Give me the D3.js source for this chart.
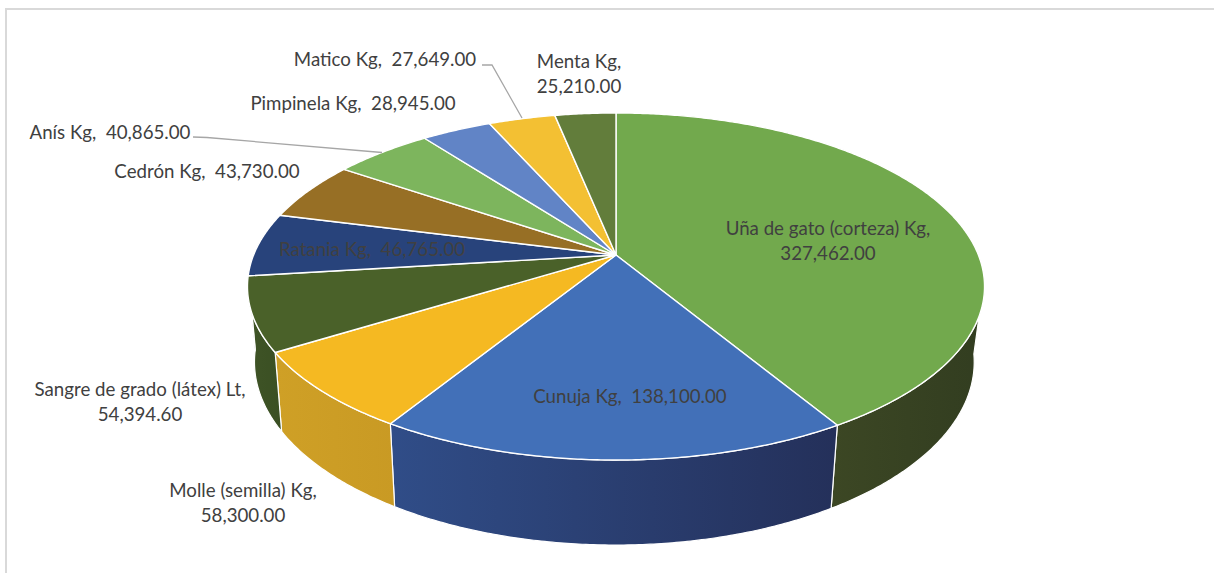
<!DOCTYPE html>
<html>
<head>
<meta charset="utf-8">
<title>Produccion</title>
<script src="https://cdn.jsdelivr.net/npm/d3@7"></script>
<style>
  html, body { margin: 0; padding: 0; background: #fff; }
  svg { display: block; }
  text { font-family: Lato, sans-serif; font-size: 18.7px; fill: #404040; white-space: pre; }
</style>
</head>
<body>
<div id="chart"></div>
<script>
'use strict';

const categories = [
  'Uña de gato (corteza) Kg', 'Cunuja Kg', 'Molle (semilla) Kg', 'Sangre de grado (látex) Lt', 'Ratania Kg',
  'Cedrón Kg', 'Anís Kg', 'Pimpinela Kg', 'Matico Kg', 'Menta Kg'
];
const values = [327462, 138100, 58300, 54394.6, 46765, 43730, 40865, 28945, 27649, 25210];

const topColors = ['#72a94d', '#4270b8', '#f5b922', '#4a6129', '#28437b', '#976f25', '#7db55d', '#6184c6', '#f3c033', '#627d3b'];
// wall colours run left to right in screen space
const wallColorsFrom = ['#3c4724', '#304d88', '#cfa026', '#3f5426', '#000', '#000', '#000', '#000', '#000', '#000'];
const wallColorsTo = ['#323d20', '#24305a', '#c99a24', '#3a4f23', '#000', '#000', '#000', '#000', '#000', '#000'];

// label placement, same order as categories
const labelCenters = [828, 630, 243, 140, 372, 207, 110, 353, 385, 579];
const labelBaselines = [235, 403, 497, 396, 256, 178, 139, 110, 66, 68];
const labelWrapped = [true, false, true, true, false, false, false, false, false, true];

const leaderLines = [
  [[193, 137], [207, 137.5], [382, 152.5]],
  [[482, 65], [492, 65], [522, 118]]
];

const WIDTH = 1214;
const HEIGHT = 573;
const LINE_HEIGHT = 25;
const CENTER_X = 616;
const CENTER_Y = 255;
const RADIUS_X = 362.4;
const RADIUS_Y = 167.8;
const PERSPECTIVE = 0.1816;
const ARC_STEP = Math.PI / 180 / 2;

// only this part of the rim is facing the viewer
const WALL_START = 98 * Math.PI / 180;
const WALL_END = 263.5 * Math.PI / 180;

const formatValue = d3.format(',.2f');

// pie plane to screen, the near edge comes out bigger than the far one
function projectTop(angle, radius) {
  const u = Math.sin(angle) * radius;
  const v = -Math.cos(angle) * radius;
  const w = 1 - PERSPECTIVE * v;
  return [CENTER_X + RADIUS_X * u / w, CENTER_Y + RADIUS_Y * v / w];
}

// lower rim of the disc, derived from the upper rim
function projectBottom(angle) {
  const p = projectTop(angle, 1);
  const shrink = p[0] < CENTER_X ? 0.981 : 0.972;
  return [CENTER_X + shrink * (p[0] - CENTER_X), 1.055 * p[1] + 59.7];
}

function sampleAngles(start, end) {
  const angles = d3.range(start, end, ARC_STEP);
  angles.push(end);
  return angles;
}

const pieSlices = d3.pie().sort(null).value(d => d)(values);
const line = d3.line();

const svg = d3.select('#chart').append('svg').attr('width', WIDTH).attr('height', HEIGHT);
const defs = svg.append('defs');

svg.append('rect').attr('width', WIDTH).attr('height', HEIGHT).attr('fill', '#fff');

// chart frame, only top and left are visible in the picture
svg.append('path')
  .attr('d', line([[6, HEIGHT], [6, 9], [WIDTH, 9]]))
  .attr('fill', 'none')
  .attr('stroke', '#d9d9d9')
  .attr('stroke-width', 2);

function wallPoints(slice) {
  const start = Math.max(slice.startAngle, WALL_START);
  const end = Math.min(slice.endAngle, WALL_END);
  if(start >= end) {
    return null;
  }

  const angles = sampleAngles(start, end);
  return angles.map(a => projectTop(a, 1)).concat(angles.slice().reverse().map(projectBottom));
}

const wallData = pieSlices
  .map(slice => ({index: slice.index, points: wallPoints(slice)}))
  .filter(d => d.points !== null);

wallData.forEach((d) => {
  const xExtent = d3.extent(d.points, p => p[0]);
  const gradient = defs.append('linearGradient')
    .attr('id', `wall-${d.index}`)
    .attr('gradientUnits', 'userSpaceOnUse')
    .attr('x1', xExtent[0])
    .attr('x2', xExtent[1])
    .attr('y1', 0)
    .attr('y2', 0);
  gradient.append('stop').attr('offset', 0).attr('stop-color', wallColorsFrom[d.index]);
  gradient.append('stop').attr('offset', 1).attr('stop-color', wallColorsTo[d.index]);
});

svg.append('g').selectAll('path')
  .data(wallData)
  .join('path')
  .attr('d', d => line(d.points) + 'Z')
  .attr('fill', d => `url(#wall-${d.index})`)
  .attr('stroke', '#fff')
  .attr('stroke-width', 1.2)
  .attr('stroke-linejoin', 'round');

svg.append('g').selectAll('path')
  .data(pieSlices)
  .join('path')
  .attr('d', (slice) => {
    const rim = sampleAngles(slice.startAngle, slice.endAngle).map(a => projectTop(a, 1));
    return line([[CENTER_X, CENTER_Y]].concat(rim)) + 'Z';
  })
  .attr('fill', (slice) => topColors[slice.index])
  .attr('stroke', '#fff')
  .attr('stroke-width', 1.4)
  .attr('stroke-linejoin', 'round');

svg.append('g').selectAll('path')
  .data(leaderLines)
  .join('path')
  .attr('d', d => line(d))
  .attr('fill', 'none')
  .attr('stroke', '#a6a6a6')
  .attr('stroke-width', 1.3);

const labels = svg.append('g').selectAll('text')
  .data(categories)
  .join('text')
  .attr('text-anchor', 'middle')
  .attr('x', (d, i) => labelCenters[i])
  .attr('y', (d, i) => labelBaselines[i]);

labels.each(function(name, i) {
  const amount = formatValue(values[i]);
  const lines = labelWrapped[i] ? [`${name},`, amount] : [`${name},  ${amount}`];
  d3.select(this).selectAll('tspan')
    .data(lines)
    .join('tspan')
    .attr('x', labelCenters[i])
    .attr('dy', (d, j) => j === 0 ? 0 : LINE_HEIGHT)
    .text(d => d);
});
</script>
</body>
</html>
